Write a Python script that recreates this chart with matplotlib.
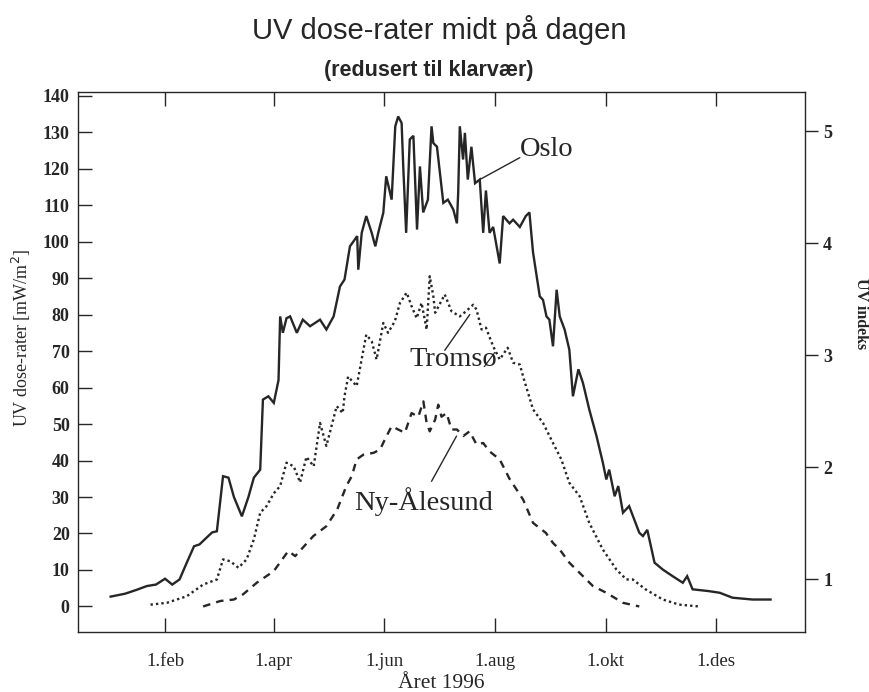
import matplotlib
matplotlib.use("Agg")
import matplotlib.pyplot as plt

# ---------------- data (day of year 1996, mW/m^2) ----------------
oslo_day = [2, 10, 16, 22, 27, 32, 36, 40, 44, 48, 51, 55, 58, 60.6, 64, 67, 70, 74.4, 78, 81,
            84.5, 86, 89, 92, 94.6, 95.5, 97, 99, 101, 104.7, 108, 112, 117.5, 121, 125, 128.5,
            131, 134, 138, 138.6, 140.5, 143, 146, 148, 149.6, 152.4, 154, 157, 159, 160.6,
            162.5, 163.4, 165, 167, 169, 171, 172.6, 174.4, 177, 179, 180, 182, 185.5, 188,
            191, 193, 193.7, 194.6, 196.4, 197.4, 199, 201, 203, 205.6, 207.5, 209, 211, 213,
            216.6, 218.5, 222, 224, 227.7, 231, 233, 234, 235, 238.7, 240.5, 242.4, 244, 246,
            248, 249.7, 252.4, 255, 257, 260, 262.5, 266, 270, 273.5, 275.4, 277, 280, 282,
            284.6, 288, 293.6, 295.6, 298, 302, 306.6, 312, 317.6, 320, 323, 332, 338, 345,
            356, 366]
oslo_val = [2.7, 3.5, 4.5, 5.6, 6.0, 7.6, 6.0, 7.4, 12, 16.5, 17, 18.9, 20.3, 20.6, 35.7, 35.3,
            30, 24.7, 30, 35.3, 37.5, 56.7, 57.6, 55.8, 62, 79.5, 75, 79, 79.5, 75, 78.6, 76.8,
            78.6, 75.9, 79.5, 87.7, 89.6, 98.7, 101.5, 92.3, 102.4, 107, 102.4, 98.7, 102.4,
            107.9, 117.9, 111.5, 131.6, 134.3, 132.5, 120.6, 102.4, 128, 129, 103.3, 120.6,
            108, 111.5, 131.6, 127, 126, 110.6, 111.5, 108.8, 105, 113.3, 131.6, 122.5, 129.8,
            117, 126, 116, 117, 102.4, 114, 102.4, 104, 94, 107, 105, 106, 104, 107, 108,
            102.4, 97, 85, 84, 79.5, 78.6, 71.3, 86.8, 79.5, 75.9, 70.4, 57.6, 65, 61.3, 54,
            46.7, 39.4, 34.8, 37.5, 30.2, 33, 25.7, 27.5, 20.2, 19.3, 21, 12, 10.1, 8.3, 6.5,
            8.3, 4.7, 4.2, 3.75, 2.4, 1.9, 1.9]

tromso_day = [24, 33, 44, 53, 60.6, 64, 68, 72.5, 77, 81, 84.5, 88, 92, 95.5, 99, 103, 106.5,
              110, 114, 117.5, 121, 126.7, 130, 131, 133, 137.7, 143, 146, 148.7, 152.4, 155,
              158.8, 161.6, 165.3, 168, 170.8, 173.5, 176.3, 178, 180, 181, 186.3, 190, 194.6,
              198, 202, 203.8, 206.6, 209, 213, 216.6, 221, 224, 227.7, 230, 235, 240.5, 246,
              250.6, 255, 260.7, 266, 273.5, 281, 286.5, 290, 297, 306.6, 315.6, 326.6]
tromso_val = [0.5, 1, 2.8, 6, 7.4, 12.9, 12.4, 10.6, 12.9, 18.4, 25.7, 27.5, 31, 33, 39.4, 38.4,
              34, 41, 38.4, 50.3, 44, 54.9, 53, 57.6, 63, 60.4, 74.5, 72.7, 67.7, 77.7, 75, 78.2,
              83.2, 86, 82.3, 79, 83.2, 75.9, 90.5, 85, 80.5, 85.5, 80.9, 79.5, 80.9, 82.7, 81.4,
              75.9, 76.4, 71.3, 67.7, 70.9, 66.8, 66.3, 62.2, 54, 50.3, 44.8, 40.3, 33.9, 30.2,
              22.9, 15.6, 10.1, 7.4, 7.4, 4.7, 1.9, 0.5, 0]

nyal_day = [53, 62.5, 70, 75, 82.6, 92, 100, 103.8, 113.8, 121, 127, 132, 135, 137.7, 141.4, 147,
            150.6, 153.3, 157, 160.6, 164.3, 168, 171.7, 174.5, 176.3, 178, 181, 182.7, 184.5,
            187.3, 190, 193, 196.5, 200, 203.8, 207.5, 211, 216.6, 222, 229.5, 235, 242, 246,
            249.7, 255, 260.7, 268, 275.4, 284.6, 293.6]
nyal_val = [0, 1.5, 1.9, 3.3, 6.5, 9.7, 15.2, 13.8, 19.3, 22, 26.6, 33, 35.7, 40.3, 41.6, 42.1,
            43, 45.8, 49.4, 48.5, 47.6, 53, 52, 56.2, 50.3, 48, 51.2, 55.3, 52, 53, 48.5, 48.5,
            46.7, 48, 44.4, 44.8, 42.5, 40.3, 35, 29.3, 22.9, 20.2, 17.4, 15.6, 12, 9.2, 5.6,
            3.75, 1, 0]

month_days = [32, 92, 153, 214, 275, 336]
month_labels = ["1.feb", "1.apr", "1.jun", "1.aug", "1.okt", "1.des"]
left_ticks = list(range(0, 141, 10))
uv_ticks = [1, 2, 3, 4, 5]
# UV index 1 and 5 correspond to these dose-rate values on the left scale
uv_ref_uv = [1, 5]
uv_ref_dose = [7.4, 130.2]

series_labels = ["Oslo", "Tromsø", "Ny-Ålesund"]

# ---------------- figure ----------------
ink = "#262626"
serif = ["Liberation Serif", "DejaVu Serif"]
sans = ["Liberation Sans", "DejaVu Sans"]

fig = plt.figure(figsize=(8.7, 6.92), dpi=100)
ax = fig.add_axes([78 / 870, 1 - 632 / 692, (805 - 78) / 870, (632 - 92) / 692])

ax.plot(oslo_day, oslo_val, color=ink, lw=1.7, solid_joinstyle="miter")
ax.plot(tromso_day, tromso_val, color=ink, lw=1.7, dashes=(1.0, 1.3))
ax.plot(nyal_day, nyal_val, color=ink, lw=1.7, dashes=(3.2, 2.6))

xlim = (-16, 385)
ylim = (-7, 141)
ax.set_xlim(*xlim)
ax.set_ylim(*ylim)

ax.set_xticks(month_days)
ax.set_xticklabels(month_labels, fontfamily=serif, fontsize=13.5, color=ink)
ax.set_yticks(left_ticks)
ax.set_yticklabels([str(v) for v in left_ticks], fontfamily=serif, fontsize=13,
                   fontweight="bold", color=ink)
ax.tick_params(axis="x", direction="in", length=10, width=1, color=ink, top=True,
               pad=15)
ax.tick_params(axis="y", direction="in", length=10, width=1, color=ink, right=False,
               pad=6)
for sp in ax.spines.values():
    sp.set_color(ink)
    sp.set_linewidth(1.0)

ax.set_xlabel("Året 1996", fontfamily=serif, fontsize=15.5, color=ink, labelpad=3)
ax.set_ylabel("UV dose-rater [mW/m$^2$]", fontfamily=serif, fontsize=13, color=ink,
              va="center")
ax.yaxis.set_label_coords(-0.078, 0.544)

# right axis: UV index
slope = (uv_ref_dose[1] - uv_ref_dose[0]) / (uv_ref_uv[1] - uv_ref_uv[0])
off = uv_ref_dose[0] - slope * uv_ref_uv[0]
ax2 = ax.twinx()
ax2.set_ylim((ylim[0] - off) / slope, (ylim[1] - off) / slope)
ax2.set_yticks(uv_ticks)
ax2.set_yticklabels([str(v) for v in uv_ticks], fontfamily=serif, fontsize=13,
                    fontweight="bold", color=ink)
ax2.tick_params(axis="y", direction="out", length=9, width=1, color=ink, pad=4)
for sp in ax2.spines.values():
    sp.set_visible(False)
ax2.set_ylabel("UV indeks", fontfamily=serif, fontsize=11.5, fontweight="bold", color=ink,
               rotation=-90, va="center")
ax2.yaxis.set_label_coords(1.077, 0.59)

# series labels with leader lines
lab_kw = dict(fontfamily=serif, fontsize=20.5, color=ink, ha="center", va="center")
line_kw = dict(arrowstyle="-", color=ink, lw=1.0, shrinkA=0, shrinkB=0)
label_pos = [(242.5, 125.2), (190.8, 67.7), (174.4, 28.8)]
leader_from = [(227.7, 123.0), (186.3, 70.2), (179.0, 34.3)]
leader_to = [(205.6, 117.0), (200.1, 80.0), (192.8, 46.7)]
for name, pos, p0, p1 in zip(series_labels, label_pos, leader_from, leader_to):
    ax.text(pos[0], pos[1], name, **lab_kw)
    ax.annotate("", xy=p1, xytext=p0, arrowprops=line_kw)

# titles
fig.text(0.505, 1 - 39 / 692, "UV dose-rater midt på dagen", fontfamily=sans,
         fontsize=21, color=ink, ha="center", va="baseline")
fig.text(0.493, 1 - 76 / 692, "(redusert til klarvær)", fontfamily=sans,
         fontsize=15.5, fontweight="bold", color=ink, ha="center", va="baseline")

fig.savefig("out.png", dpi=100)
